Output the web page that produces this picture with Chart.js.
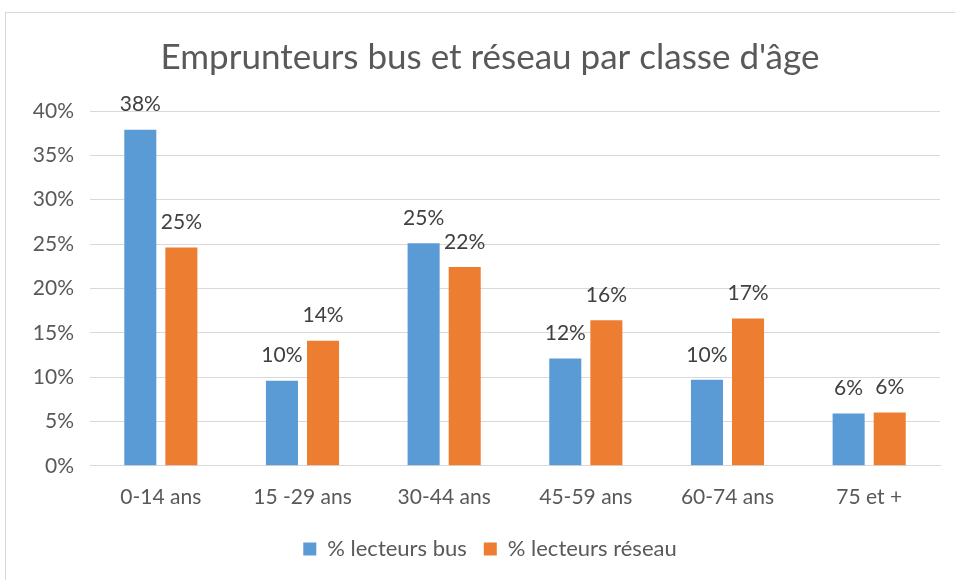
<!DOCTYPE html>
<html>
<head>
<meta charset="utf-8">
<script src="https://cdn.jsdelivr.net/npm/chart.js@4.4.0/dist/chart.umd.min.js"></script>
<style>
  body { margin: 0; background: #fff; overflow: hidden; }
  #frame {
    position: absolute; left: 5px; top: 12px;
    width: 980px; height: 580px;
    border: 1px solid #d9d9d9;
  }
  #wrap { position: absolute; left: 0; top: 0; width: 968px; height: 570px; }
</style>
</head>
<body>
<div id="frame"><div id="wrap"><canvas id="bars"></canvas></div></div>
<script>
// age groups on the x axis
const ageGroups = ["0-14 ans", "15 -29 ans", "30-44 ans", "45-59 ans", "60-74 ans", "75 et +"];
// shares (percent)
const busReaders = [37.9, 9.6, 25.1, 12.1, 9.7, 5.9];
const networkReaders = [24.6, 14.1, 22.4, 16.4, 16.6, 6.0];
const yTicks = [0, 5, 10, 15, 20, 25, 30, 35, 40];

const FONT = "Lato, 'Open Sans', sans-serif";

// draws the rounded value over each bar
const barValues = {
  id: "barValues",
  afterDatasetsDraw(chart) {
    const ctx = chart.ctx;
    ctx.save();
    ctx.font = "21px " + FONT;
    ctx.fillStyle = "#404040";
    ctx.textAlign = "center";
    ctx.textBaseline = "middle";
    chart.data.datasets.forEach((ds, i) => {
      chart.getDatasetMeta(i).data.forEach((bar, j) => {
        ctx.fillText(Math.round(ds.data[j]) + "%", bar.x, bar.y - 25);
      });
    });
    ctx.restore();
  }
};

const ctx = document.querySelector("#bars").getContext("2d");
new Chart(ctx, {
  type: "bar",
  data: {
    labels: ageGroups,
    datasets: [
      {
        label: "% lecteurs bus",
        data: busReaders,
        backgroundColor: "#5b9bd5",
        categoryPercentage: 0.58,
        barPercentage: 0.78,
      },
      {
        label: "% lecteurs réseau",
        data: networkReaders,
        backgroundColor: "#ed7d31",
        categoryPercentage: 0.58,
        barPercentage: 0.78,
      },
    ],
  },
  plugins: [barValues],
  options: {
    responsive: true,
    maintainAspectRatio: false,
    animation: false,
    layout: { padding: { left: 0, right: 0, top: 0, bottom: 13 } },
    plugins: {
      title: {
        display: true,
        text: "Emprunteurs bus et réseau par classe d'âge",
        color: "#595959",
        font: { family: FONT, size: 35, weight: "normal" },
        padding: { top: 24, bottom: 32 },
      },
      legend: {
        position: "bottom",
        labels: {
          color: "#595959",
          font: { family: FONT, size: 22 },
          boxWidth: 13,
          boxHeight: 13,
          padding: 17,
        },
      },
      tooltip: { enabled: false },
    },
    scales: {
      x: {
        grid: { display: false },
        border: { color: "#d9d9d9" },
        ticks: { color: "#595959", font: { family: FONT, size: 21 }, padding: 11 },
      },
      y: {
        min: 0,
        max: 40,
        afterFit: (s) => { s.width = 84; },
        afterBuildTicks: (s) => { s.ticks = yTicks.map((v) => ({ value: v })); },
        grid: { color: "#d9d9d9", drawTicks: false },
        border: { display: false },
        ticks: {
          color: "#595959",
          font: { family: FONT, size: 21 },
          padding: 16,
          callback: (v) => v + "%",
        },
      },
      // empty right margin so the plot stops where the reference's does
      yRight: {
        position: "right",
        min: 0,
        max: 40,
        afterFit: (s) => { s.width = 34; },
        grid: { display: false },
        border: { display: false },
        ticks: { display: false },
      },
    },
  },
});
</script>
</body>
</html>
